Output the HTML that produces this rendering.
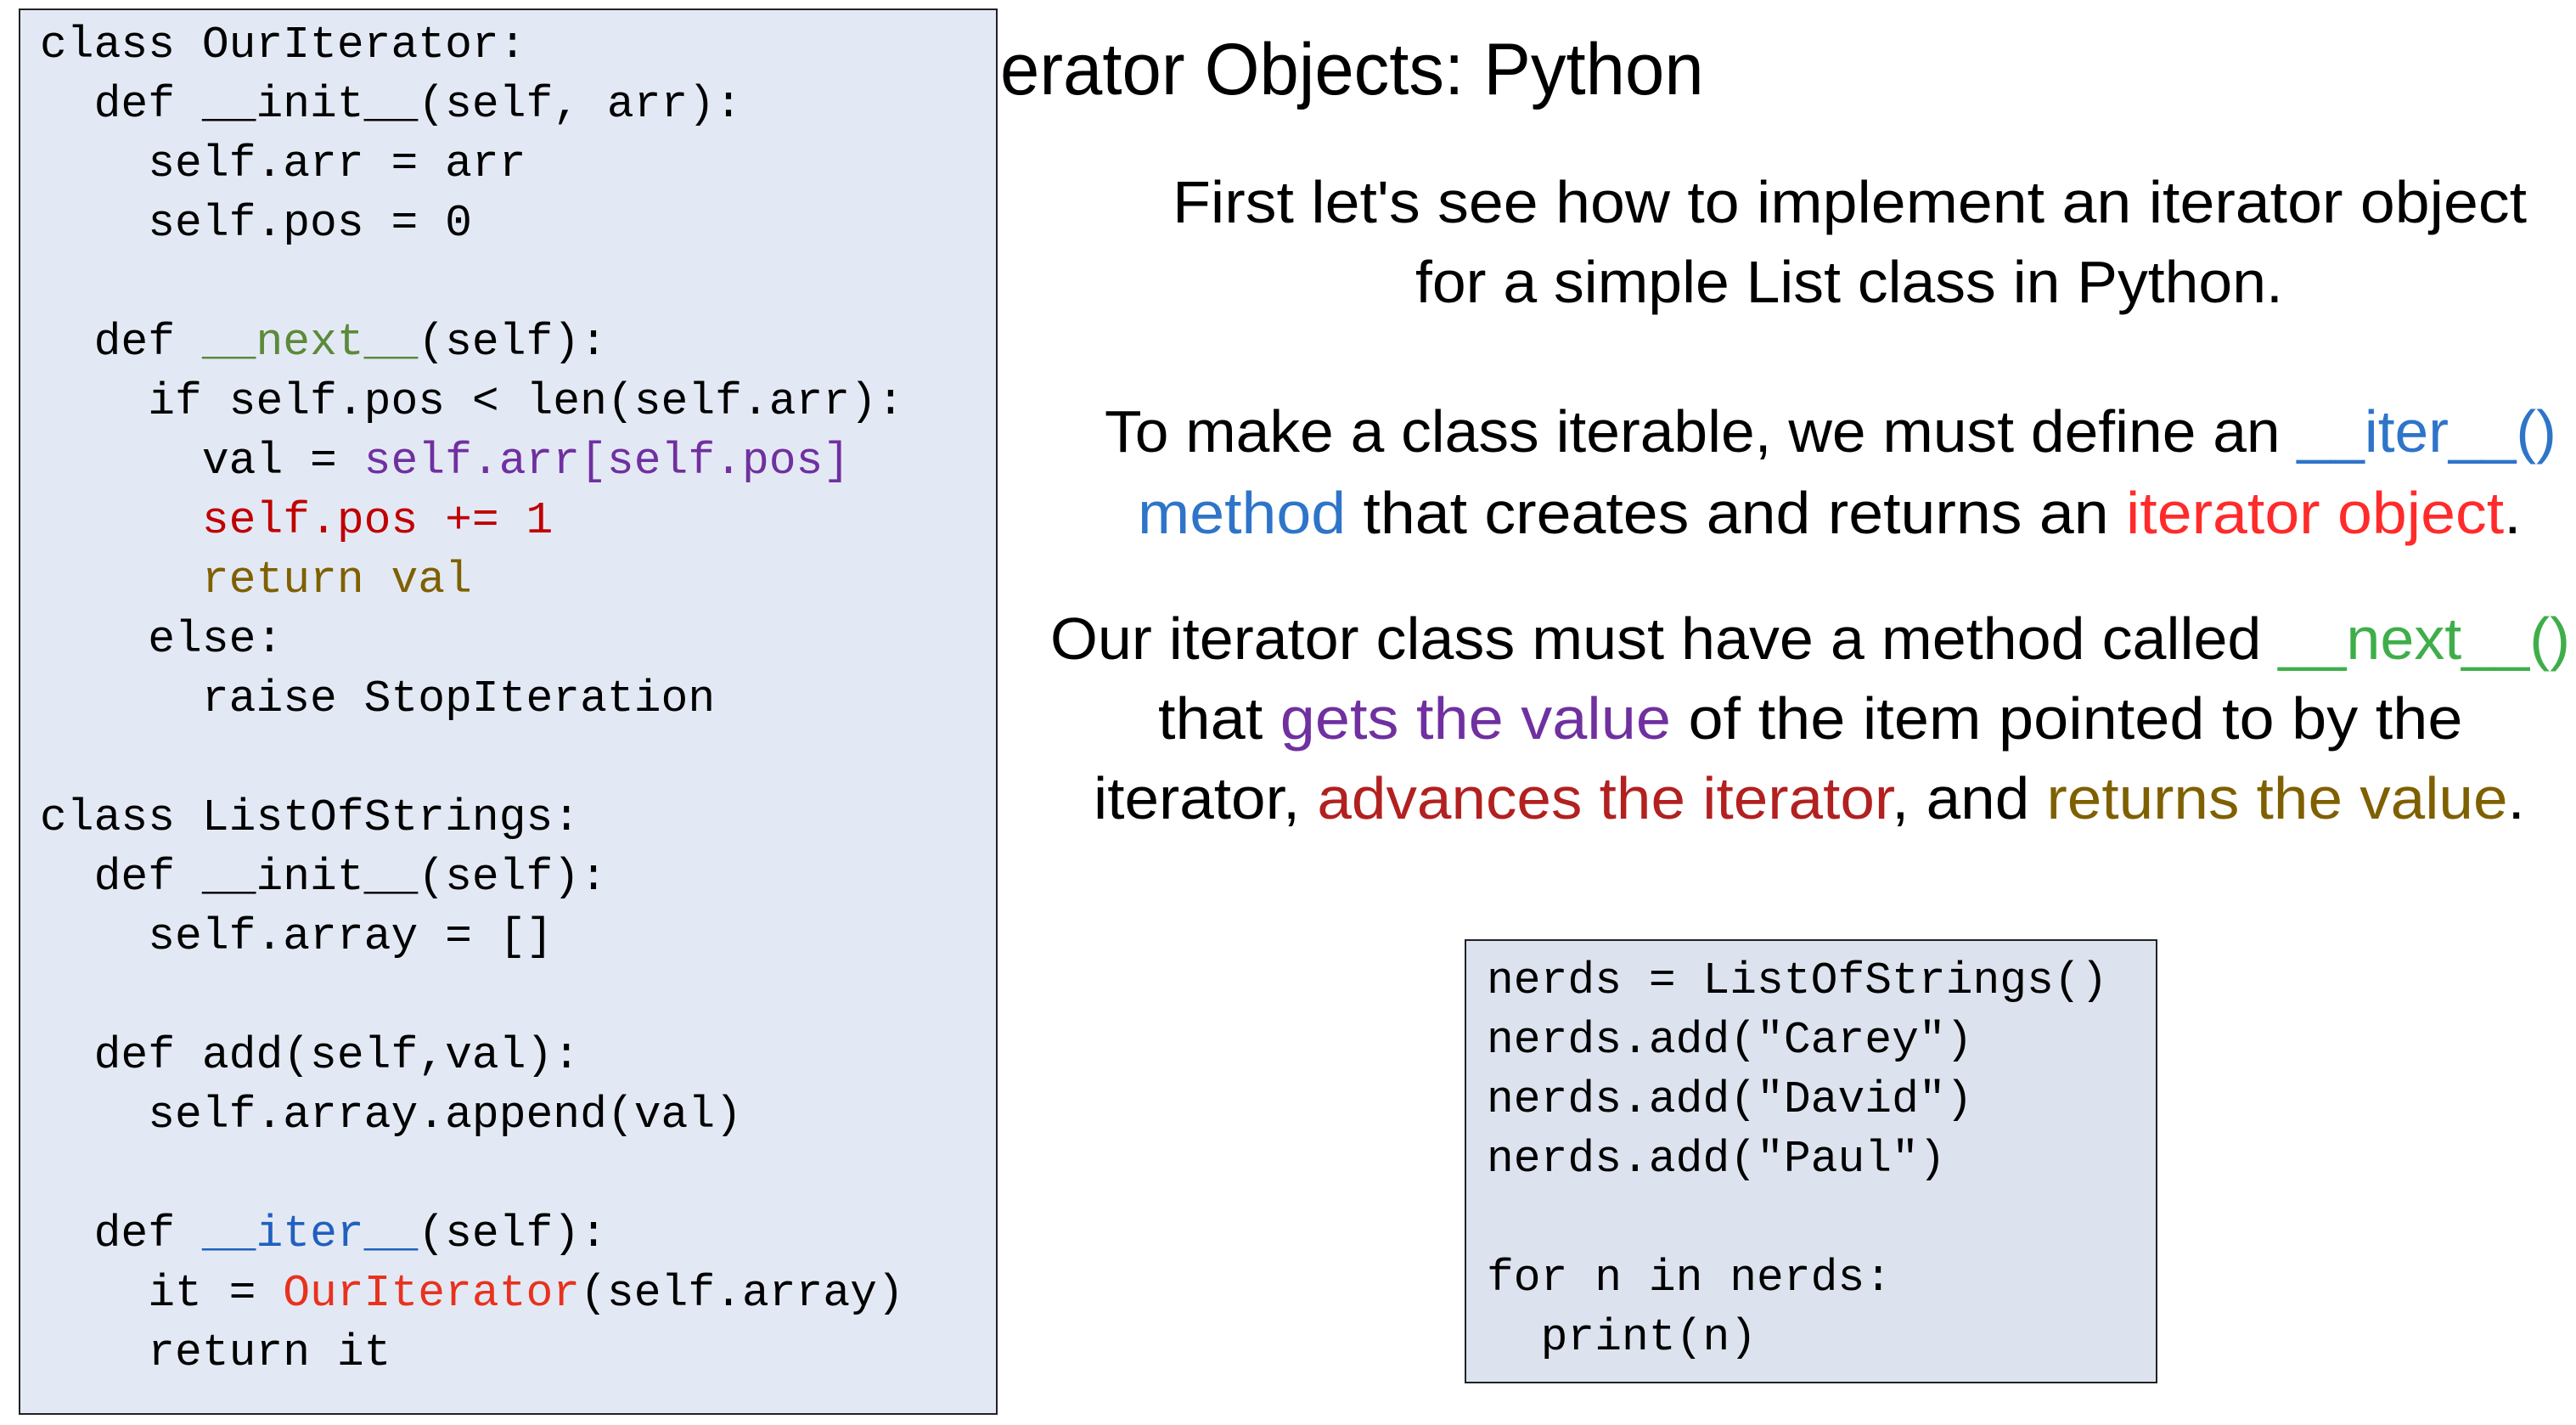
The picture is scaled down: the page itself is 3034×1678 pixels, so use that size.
<!DOCTYPE html>
<html><head><meta charset="utf-8"><style>
html,body{margin:0;padding:0;background:#fff;}
body{width:3034px;height:1678px;position:relative;overflow:hidden;font-family:"Liberation Sans",sans-serif;}
.box{position:absolute;border:2px solid #222;box-sizing:border-box;}
.code{position:absolute;font-family:"Liberation Mono",monospace;font-size:53px;line-height:70px;white-space:pre;color:#000;}
.ln{position:absolute;height:90px;line-height:90px;white-space:nowrap;font-size:70px;color:#000;transform-origin:0 50%;}
.b{color:#2e75c9}.r{color:#ff2b2b}.g{color:#3fae4a}.p{color:#7030a0}.dr{color:#b22020}.o{color:#7f6000}
.cg{color:#5b8a3a}.cp{color:#7030a0}.cr{color:#c00000}.co{color:#7f6000}.cb{color:#2060c0}.cor{color:#e8321e}
</style></head><body>
<div class="ln" id="title" style="left:1178px;top:37px;font-size:86px;">erator Objects: Python</div>

<div class="box" style="left:22px;top:10px;width:1153px;height:1656px;background:#e3e9f4;"></div>
<div class="code" style="left:47px;top:18px;">class OurIterator:
  def __init__(self, arr):
    self.arr = arr
    self.pos = 0

  def <span class="cg">__next__</span>(self):
    if self.pos &lt; len(self.arr):
      val = <span class="cp">self.arr[self.pos]</span>
      <span class="cr">self.pos += 1</span>
      <span class="co">return val</span>
    else:
      raise StopIteration

class ListOfStrings:
  def __init__(self):
    self.array = []

  def add(self,val):
    self.array.append(val)

  def <span class="cb">__iter__</span>(self):
    it = <span class="cor">OurIterator</span>(self.array)
    return it</div>

<div class="box" style="left:1725px;top:1106px;width:816px;height:523px;background:#dce3ef;"></div>
<div class="code" style="left:1751px;top:1120px;">nerds = ListOfStrings()
nerds.add("Carey")
nerds.add("David")
nerds.add("Paul")

for n in nerds:
  print(n)</div>

<div class="ln" style="left:1381px;top:193px;">First let's see how to implement an iterator object</div>
<div class="ln" style="left:1667px;top:287px;">for a simple List class in Python.</div>
<div class="ln" style="left:1301px;top:463px;">To make a class iterable, we must define an <span class="b">__iter__()</span></div>
<div class="ln" style="left:1340px;top:559px;"><span class="b">method</span> that creates and returns an <span class="r">iterator object</span>.</div>
<div class="ln" style="left:1237px;top:707px;">Our iterator class must have a method called <span class="g">__next__()</span></div>
<div class="ln" style="left:1364px;top:801px;">that <span class="p">gets the value</span> of the item pointed to by the</div>
<div class="ln" style="left:1288px;top:895px;">iterator, <span class="dr">advances the iterator</span>, and <span class="o">returns the value</span>.</div>

<script>
var targets=[829,1595,1022,1710,1630,1790,1536,1686];
var els=document.querySelectorAll('.ln');
for(var i=0;i<els.length;i++){var w=els[i].scrollWidth;if(w>0)els[i].style.transform='scaleX('+(targets[i]/w)+')';}
</script>
</body></html>
